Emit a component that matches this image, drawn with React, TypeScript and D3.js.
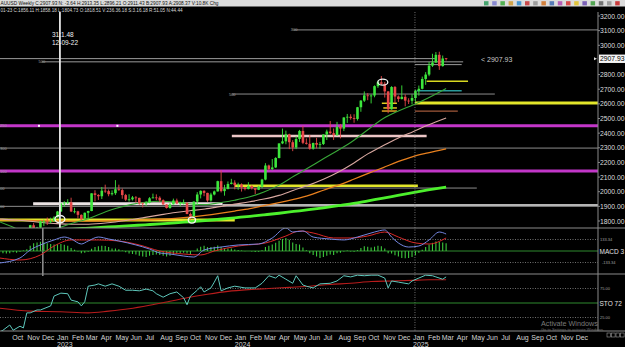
import React from "react";
import * as d3 from "d3";

const W = 625;
const H = 347;
const FONT = "Liberation Sans, Arial, sans-serif";

// ---- weekly XAUUSD bars, first bar week of 2022-09-05 ----
const FIRST_WEEK = "2022-09-05";
const opens = [
  1712, 1717, 1675, 1644, 1660, 1695, 1644, 1657, 1645, 1681,
  1771, 1751, 1755, 1797, 1797, 1793, 1798, 1824, 1865, 1920,
  1926, 1928, 1865, 1866, 1842, 1818.51, 1856, 1868, 1989, 1978,
  1969, 2007, 2004, 1983, 1990, 2017, 2011, 1977, 1946, 1948,
  1961, 1958, 1921, 1919, 1925, 1955, 1961, 1959, 1942, 1913,
  1889, 1914, 1940, 1919, 1924, 1925, 1848, 1832, 1933, 1981,
  2006, 1992, 1940, 1981, 2002, 2072, 2004, 2019, 2053, 2062,
  2045, 2049, 2029, 2018, 2039, 2024, 2013, 2035, 2083, 2179,
  2155, 2166, 2230, 2330, 2344, 2392, 2338, 2302, 2360, 2415,
  2334, 2327, 2294, 2333, 2321, 2326, 2391, 2411, 2400, 2386,
  2443, 2431, 2507, 2512, 2503, 2497, 2577, 2622, 2658, 2653,
  2657, 2721, 2747, 2737, 2685, 2563, 2715, 2650, 2633, 2648,
  2622, 2621, 2640, 2690, 2703, 2770, 2800, 2861, 2882, 2935,
  2858, 2911.43,
];
const highs = [
  1729, 1735, 1688, 1675, 1730, 1700, 1670, 1675, 1683, 1774,
  1786, 1760, 1804, 1810, 1824, 1823, 1833, 1869, 1922, 1935,
  1949, 1959, 1890, 1870, 1845, 1858.18, 1870, 1989, 2010, 1983,
  2032, 2048, 2015, 2009, 2079, 2048, 2022, 1985, 1983, 1971,
  1970, 1959, 1928, 1935, 1963, 1987, 1982, 1969, 1948, 1916,
  1922, 1953, 1953, 1932, 1947, 1926, 1858, 1933, 1997, 2009,
  2010, 1993, 1993, 2008, 2075, 2146, 2047, 2070, 2088, 2078,
  2062, 2057, 2032, 2065, 2044, 2025, 2041, 2088, 2195, 2185,
  2223, 2236, 2330, 2431, 2417, 2396, 2352, 2378, 2422, 2450,
  2364, 2388, 2335, 2368, 2340, 2392, 2424, 2483, 2432, 2477,
  2462, 2509, 2531, 2529, 2529, 2579, 2626, 2685, 2673, 2665,
  2726, 2758, 2790, 2750, 2686, 2721, 2722, 2657, 2726, 2665,
  2638, 2665, 2697, 2725, 2786, 2817, 2886, 2942, 2954, 2956,
  2930, 2913.35,
];
const lows = [
  1691, 1654, 1639, 1615, 1660, 1640, 1617, 1638, 1617, 1664,
  1747, 1727, 1745, 1765, 1773, 1785, 1797, 1824, 1862, 1896,
  1916, 1861, 1852, 1818, 1805, 1804.73, 1810, 1867, 1934, 1944,
  1950, 1992, 1969, 1974, 1978, 2006, 1952, 1937, 1932, 1940,
  1925, 1911, 1893, 1902, 1921, 1955, 1942, 1929, 1911, 1885,
  1884, 1913, 1915, 1901, 1913, 1846, 1810, 1830, 1908, 1954,
  1969, 1931, 1932, 1975, 2001, 1995, 1973, 2016, 2050, 2016,
  2013, 2001, 2009, 2016, 2015, 1984, 2011, 2024, 2078, 2146,
  2146, 2162, 2228, 2325, 2324, 2291, 2277, 2291, 2340, 2325,
  2322, 2287, 2287, 2296, 2293, 2319, 2353, 2393, 2353, 2381,
  2364, 2414, 2470, 2492, 2471, 2486, 2546, 2613, 2625, 2603,
  2645, 2709, 2728, 2643, 2536, 2560, 2605, 2613, 2630, 2583,
  2599, 2596, 2615, 2656, 2699, 2730, 2789, 2852, 2881, 2832,
  2854, 2896.21,
];
const closes = [
  1717, 1675, 1644, 1660, 1695, 1644, 1657, 1645, 1681, 1771,
  1751, 1755, 1797, 1797, 1793, 1798, 1824, 1865, 1920, 1926,
  1928, 1865, 1866, 1842, 1811, 1856.11, 1868, 1989, 1978, 1969,
  2007, 2004, 1983, 1990, 2017, 2011, 1977, 1946, 1948, 1961,
  1958, 1921, 1919, 1925, 1955, 1961, 1959, 1942, 1913, 1889,
  1914, 1940, 1919, 1924, 1925, 1848, 1832, 1933, 1981, 2006,
  1992, 1940, 1981, 2002, 2072, 2004, 2019, 2053, 2062, 2045,
  2049, 2029, 2018, 2039, 2024, 2013, 2035, 2083, 2179, 2155,
  2166, 2230, 2330, 2344, 2392, 2338, 2302, 2360, 2415, 2334,
  2327, 2294, 2333, 2321, 2326, 2391, 2411, 2400, 2386, 2443,
  2431, 2507, 2512, 2503, 2497, 2577, 2622, 2658, 2653, 2657,
  2721, 2747, 2737, 2685, 2563, 2715, 2650, 2633, 2648, 2622,
  2621, 2640, 2690, 2703, 2770, 2800, 2861, 2882, 2935, 2858,
  2910, 2907.93,
];

// ---- moving averages (monthly samples) ----
const maDates = [
  "2022-09-01", "2022-10-01", "2022-11-01", "2022-12-01",
  "2023-01-01", "2023-02-01", "2023-03-01", "2023-04-01", "2023-05-01", "2023-06-01",
  "2023-07-01", "2023-08-01", "2023-09-01", "2023-10-01", "2023-11-01", "2023-12-01",
  "2024-01-01", "2024-02-01", "2024-03-01", "2024-04-01", "2024-05-01", "2024-06-01",
  "2024-07-01", "2024-08-01", "2024-09-01", "2024-10-01", "2024-11-01", "2024-12-01",
  "2025-01-01", "2025-02-01", "2025-03-10",
];
const sma26 = [
  1800, 1760, 1720, 1725, 1750, 1785, 1810, 1850, 1885, 1912, 1928, 1935, 1930, 1918, 1912, 1925,
  1942, 1965, 1998, 2045, 2105, 2165, 2225, 2285, 2350, 2425, 2500, 2550, 2592, 2640, 2705,
];
const sma52 = [
  1815, 1808, 1800, 1790, 1782, 1778, 1778, 1783, 1793, 1808, 1825, 1842, 1858, 1870, 1882, 1898,
  1915, 1932, 1950, 1975, 2010, 2045, 2085, 2135, 2195, 2260, 2315, 2365, 2410, 2455, 2503,
];
const sma100 = [
  1808, 1806, 1804, 1802, 1800, 1799, 1799, 1800, 1802, 1805, 1808, 1812, 1818, 1826, 1838, 1852,
  1868, 1885, 1905, 1925, 1948, 1975, 2010, 2045, 2085, 2125, 2165, 2205, 2240, 2265, 2292,
];
const sma200 = [
  1725, 1728, 1731, 1735, 1740, 1745, 1750, 1756, 1762, 1768, 1774, 1780, 1787, 1795, 1803, 1812,
  1822, 1832, 1842, 1853, 1865, 1877, 1890, 1905, 1920, 1938, 1956, 1975, 1994, 2012, 2032,
];

// ---- MACD panel (week index, value) ----
const macdHist = [
  -20, -25, -30, -25, -15, -20, -10, 5, 20, 60,
  90, 100, 108, 100, 90, 80, 75, 78, 80, 72,
  60, 35, 15, -5, -25, -20, -10, 25, 45, 55,
  60, 58, 45, 30, 30, 20, 5, -15, -30, -35,
  -40, -55, -65, -70, -55, -45, -40, -45, -55, -65,
  -55, -40, -30, -25, -20, -30, -35, 0, 30, 50,
  60, 45, 45, 50, 65, 50, 35, 30, 28, 18,
  12, 5, -2, 0, -5, -12, -8, 10, 45, 60,
  75, 95, 120, 140, 150, 130, 100, 80, 75, 40,
  10, -25, -45, -65, -80, -70, -55, -40, -45, -25,
  -20, -5, 5, -5, -10, 10, 35, 55, 50, 40,
  50, 60, 55, 30, -25, -30, -50, -65, -80, -85,
  -80, -70, -50, -20, 15, 45, 75, 95, 110, 105,
  100, 90,
];
const macdMain: [number, number][] = [
  [0, -139], [6, -81], [9, 12], [12, 70], [16, 128], [19, 162], [21, 140], [24, 81], [26, 116],
  [29, 162], [32, 139], [35, 116], [40, 70], [44, 23], [47, -23], [50, -35], [54, -58], [57, -70],
  [60, 12], [65, 46], [70, 70], [76, 81], [80, 151], [84, 267], [86, 220], [89, 232], [92, 162],
  [97, 139], [101, 128], [105, 162], [110, 220], [113, 244], [115, 162], [117, 93], [120, 46],
  [123, 58], [126, 128], [129, 220], [131, 197],
];
const macdSignal: [number, number][] = [
  [0, -81], [6, -104], [12, -46], [16, 58], [21, 128], [29, 128], [35, 116], [41, 70], [47, 0],
  [54, -35], [59, -46], [63, 0], [70, 58], [78, 93], [84, 174], [88, 232], [92, 209], [98, 151],
  [103, 151], [108, 174], [113, 220], [117, 162], [122, 93], [126, 81], [131, 151],
];

// ---- Stochastic panel (week index, value) ----
const stoMain: [number, number][] = [
  [0, 0], [1, 3], [3, 12], [4, 3], [6, 10], [7, 7], [8, 33], [9, 33], [11, 38], [12, 38],
  [15, 45], [16, 62], [18, 67], [20, 66], [21, 55], [23, 52], [24, 45], [25, 52], [26, 79],
  [28, 81], [29, 83], [31, 79], [33, 83], [35, 79], [37, 72], [39, 72], [41, 71], [43, 74],
  [45, 71], [46, 66], [48, 60], [50, 66], [52, 69], [54, 59], [55, 47], [56, 62], [58, 72],
  [59, 78], [60, 69], [62, 76], [63, 86], [64, 97], [65, 71], [67, 76], [69, 79], [72, 76],
  [75, 76], [77, 84], [79, 97], [81, 93], [82, 98], [84, 91], [86, 84], [87, 97], [89, 81],
  [90, 79], [92, 76], [94, 83], [97, 84], [99, 88], [101, 97], [103, 95], [105, 98], [107, 97],
  [109, 98], [111, 98], [113, 93], [114, 76], [115, 88], [117, 86], [120, 83], [121, 88],
  [123, 93], [125, 98], [127, 97], [128, 95], [130, 91], [131, 95],
];
const stoSignal: [number, number][] = [
  [0, 41], [9, 36], [18, 35], [26, 33], [32, 36], [38, 40], [44, 46], [50, 53], [55, 59],
  [61, 65], [67, 70], [73, 73], [79, 75], [85, 77], [91, 79], [97, 82], [103, 84], [109, 87],
  [115, 88], [121, 89], [126, 90], [131, 90],
];

// ---- axis labels ----
const priceTicks = [3200, 3100, 3000, 2800, 2700, 2600, 2500, 2400, 2300, 2200, 2100, 2000, 1900, 1800];
const currentPrice = 2907.93;
const monthNames = ["Jan", "Feb", "Mar", "Apr", "May", "Jun", "Jul", "Aug", "Sep", "Oct", "Nov", "Dec"];
const yearLabels = ["2023", "2024", "2025"];
const titleText =
  "AUUSD Weekly C:2907.93 N: -3.64 H:2913.35 L:2896.21 O:2911.43 B:2907.93 A:2908.37 V:10.8K Chg";
const infoText = "01-23 C:1856.11 H:1858.18 L:1804.73 O:1818.51 V:236.36.18 S:3.16.18 R:51.05 N:44.44";

// ---- drawn level lines: price, start date, end date (null = chart edge) ----
type Level = { p: number; from: string | null; to: string | null; c: string; w: number };
const levels: Level[] = [
  { p: 3105, from: "2024-05-01", to: null, c: "#8c8c8c", w: 1 },
  { p: 2909, from: null, to: "2025-02-15", c: "#9a9a9a", w: 1 },
  { p: 2887, from: "2022-12-01", to: "2025-04-14", c: "#9a9a9a", w: 1 },
  { p: 2868, from: "2025-01-05", to: "2025-04-11", c: "#9a9a9a", w: 1 },
  { p: 2755, from: "2025-01-29", to: "2025-04-24", c: "#d8d820", w: 1.5 },
  { p: 2690, from: "2025-01-09", to: "2025-04-11", c: "#2a9a9a", w: 1.5 },
  { p: 2667, from: "2023-12-26", to: "2025-06-18", c: "#8c8c8c", w: 1 },
  { p: 2606, from: "2025-01-05", to: null, c: "#e2e62a", w: 3 },
  { p: 2550, from: "2025-01-05", to: "2025-04-03", c: "#a0583a", w: 1.2 },
  { p: 2450, from: null, to: null, c: "#c236c8", w: 3 },
  { p: 2380, from: "2023-12-26", to: "2025-01-29", c: "#ecc6c6", w: 2.5 },
  { p: 2298, from: null, to: null, c: "#8c8c8c", w: 1 },
  { p: 2141, from: null, to: null, c: "#c236c8", w: 3 },
  { p: 2040, from: "2024-01-01", to: "2025-01-11", c: "#e2e62a", w: 2.5 },
  { p: 2025, from: null, to: "2025-05-12", c: "#8c8c8c", w: 1 },
  { p: 1900, from: null, to: null, c: "#8c8c8c", w: 1 },
  { p: 1910, from: "2023-12-07", to: null, c: "#b4b4b4", w: 2 },
  { p: 1918, from: "2022-11-13", to: "2023-12-07", c: "#ece4e4", w: 3 },
  { p: 1806, from: null, to: "2024-01-01", c: "#e2e62a", w: 3 },
  { p: 2604, from: "2024-10-29", to: "2024-11-29", c: "#e2d020", w: 1.5 },
  { p: 2572, from: "2024-11-01", to: "2024-11-29", c: "#e2c020", w: 1.5 },
  { p: 2551, from: "2024-10-29", to: "2024-11-29", c: "#e0a020", w: 1.5 },
];
const levelTags: { t: string; p: number; at: string | null }[] = [
  { t: "500", p: 2887, at: "2022-11-24" },
  { t: "500", p: 2667, at: "2023-12-20" },
  { t: "300", p: 3105, at: "2024-04-25" },
  { t: "250", p: 2450, at: null },
  { t: "300", p: 2298, at: null },
  { t: "100", p: 2141, at: null },
  { t: "00", p: 2025, at: null },
  { t: "00", p: 1900, at: null },
];
const markers: { d: string; p: number; rx: number; ry: number }[] = [
  { d: "2023-01-07", p: 1813, rx: 5, ry: 3.6 },
  { d: "2023-10-05", p: 1806, rx: 3.6, ry: 3 },
  { d: "2024-10-31", p: 2748, rx: 5, ry: 3 },
];
const toolColors = [
  "#2a9a5a", "#7a7ad0", "#3aa83a", "#d09a30", "#2a8ad0", "#c83030", "#909090", "#d07020",
  "#406ab0", "#b048b0", "#d83030", "#e0c020", "#6a4ab0", "#3a9a3a", "#606060", "#909090", "#c82020",
];

const parse = d3.timeParse("%Y-%m-%d");

function T(props: {
  x: number; y: number; s: number; fill: string; children: React.ReactNode;
  anchor?: string; len?: number;
}) {
  const { x, y, s, fill, children, anchor, len } = props;
  return (
    <text
      x={x}
      y={y}
      fontSize={s}
      fill={fill}
      fontFamily={FONT}
      textAnchor={anchor || "start"}
      textLength={len}
      lengthAdjust={len ? "spacingAndGlyphs" : undefined}
    >
      {children}
    </text>
  );
}

export default function App() {
  const x = d3
    .scaleTime()
    .domain([parse("2023-01-01")!, parse("2025-01-01")!])
    .range([57, 413]);
  const y = d3.scaleLinear().domain([1800, 3200]).range([221, 16]);
  const yM = d3.scaleLinear().domain([-133.34, 133.34]).range([262.5, 239.5]);
  const yS = d3.scaleLinear().domain([0, 100]).range([332, 274]);

  const first = parse(FIRST_WEEK)!;
  const wx = (i: number) => x(d3.timeDay.offset(first, 7 * i));
  const AX = 598; // price axis x
  const xEdge = (d: string | null, fallback: number) => (d ? x(parse(d)!) : fallback);

  const maLine = d3
    .line<number>()
    .x((_, i) => x(parse(maDates[i])!))
    .y((v) => y(v))
    .curve(d3.curveMonotoneX);
  const pairLine = (sc: d3.ScaleLinear<number, number>, curve: d3.CurveFactory) =>
    d3
      .line<[number, number]>()
      .x((d) => wx(d[0]))
      .y((d) => sc(d[1]))
      .curve(curve);

  const months = d3.timeMonth.range(parse("2022-10-01")!, parse("2026-01-01")!);
  const years = yearLabels.map((t) => ({ t, d: parse(`${t}-01-01`)! }));
  const bodyW = 2.6;

  return (
    <svg
      width={W}
      height={H}
      style={{ position: "absolute", left: 0, top: 0, display: "block" }}
      xmlns="http://www.w3.org/2000/svg"
    >
      <defs>
        <clipPath id="mainClip">
          <rect x={0} y={12} width={AX} height={216} />
        </clipPath>
        <clipPath id="macdClip">
          <rect x={0} y={228} width={AX} height={46} />
        </clipPath>
        <clipPath id="stoClip">
          <rect x={0} y={274} width={AX} height={57} />
        </clipPath>
      </defs>
      <rect x={0} y={0} width={W} height={H} fill="#000" />

      {/* title bar */}
      <rect x={0} y={0} width={W} height={6.5} fill="#dcdcdc" />
      <T x={0.5} y={5.3} s={5.2} fill="#111" len={218}>{titleText}</T>
      {toolColors.map((c, k) => (
        <rect key={k} x={484 + k * 8.2} y={1.2} width={4.5} height={4.2} fill={c} opacity={0.85} />
      ))}
      <T x={0.5} y={11.6} s={5} fill="#d8d8d8" len={182}>{infoText}</T>

      {/* main panel */}
      <g clipPath="url(#mainClip)">
        {levels.map((l, k) => (
          <line
            key={k}
            x1={xEdge(l.from, 0)}
            x2={xEdge(l.to, AX)}
            y1={y(l.p)}
            y2={y(l.p)}
            stroke={l.c}
            strokeWidth={l.w}
          />
        ))}
        <rect x={x(parse("2022-11-25")!) - 1} y={y(2450) - 1} width={2} height={2} fill="#fff" />
        <rect x={x(parse("2023-05-05")!) - 1} y={y(2450) - 1} width={2} height={2} fill="#fff" />

        {/* moving averages */}
        <path d={maLine(sma200)!} fill="none" stroke="#4cf02c" strokeWidth={2.8} />
        <path d={maLine(sma100)!} fill="none" stroke="#e8801e" strokeWidth={1.3} />
        <path d={maLine(sma52)!} fill="none" stroke="#d8a8a0" strokeWidth={1.1} />
        <path d={maLine(sma26)!} fill="none" stroke="#38a838" strokeWidth={1.1} />

        {/* candles */}
        {closes.map((c, i) => {
          const o = opens[i];
          const up = c >= o;
          const col = up ? "#3ce63c" : "#e84848";
          const cx = wx(i);
          const top = y(Math.max(o, c));
          const bot = y(Math.min(o, c));
          return (
            <g key={i}>
              <line x1={cx} x2={cx} y1={y(highs[i])} y2={y(lows[i])} stroke={col} strokeWidth={0.9} />
              <rect x={cx - bodyW / 2} y={top} width={bodyW} height={Math.max(0.8, bot - top)} fill={col} />
            </g>
          );
        })}

        {markers.map((m, k) => (
          <ellipse
            key={k}
            cx={x(parse(m.d)!)}
            cy={y(m.p)}
            rx={m.rx}
            ry={m.ry}
            fill="none"
            stroke="#f4f4f4"
            strokeWidth={1.3}
          />
        ))}
      </g>

      {levelTags.map((t, k) => (
        <T key={k} x={t.at ? x(parse(t.at)!) : 0} y={y(t.p) + 1.5} s={4} fill="#a0a0a0">
          {t.t}
        </T>
      ))}

      {/* cursor lines */}
      <line
        x1={x(parse("2023-01-07")!)}
        x2={x(parse("2023-01-07")!)}
        y1={12}
        y2={228}
        stroke="#e6e6e6"
        strokeWidth={1.8}
      />
      <line
        x1={x(parse("2022-12-03")!)}
        x2={x(parse("2022-12-03")!)}
        y1={228}
        y2={276}
        stroke="#d8d8d8"
        strokeWidth={1}
      />
      <line
        x1={x(parse("2025-01-05")!)}
        x2={x(parse("2025-01-05")!)}
        y1={12}
        y2={331}
        stroke="#8a8a8a"
        strokeWidth={0.8}
        strokeDasharray="1,1.5"
      />
      <T x={52} y={37} s={6.5} fill="#f0f0f0">31:1.48</T>
      <T x={52} y={44.5} s={6.5} fill="#f0f0f0">12-09-22</T>
      <T x={481} y={62} s={7} fill="#c8c8c8">{`< ${currentPrice.toFixed(2)}`}</T>

      {/* MACD panel */}
      <line x1={0} x2={AX} y1={yM(133.34)} y2={yM(133.34)} stroke="#8a8a8a" strokeWidth={0.8} strokeDasharray="1,1.5" />
      <line x1={0} x2={AX} y1={yM(-133.34)} y2={yM(-133.34)} stroke="#8a8a8a" strokeWidth={0.8} strokeDasharray="1,1.5" />
      <line x1={0} x2={AX} y1={yM(0)} y2={yM(0)} stroke="#2e8a2e" strokeWidth={1} />
      <g clipPath="url(#macdClip)">
        {macdHist.map((v, i) => (
          <line key={i} x1={wx(i)} x2={wx(i)} y1={yM(0)} y2={yM(v)} stroke="#3cc83c" strokeWidth={1.1} />
        ))}
        <path d={pairLine(yM, d3.curveMonotoneX)(macdSignal)!} fill="none" stroke="#d82828" strokeWidth={1} />
        <path d={pairLine(yM, d3.curveMonotoneX)(macdMain)!} fill="none" stroke="#7486e0" strokeWidth={1} />
      </g>

      {/* Stochastic panel */}
      <line x1={0} x2={AX} y1={yS(75)} y2={yS(75)} stroke="#8a8a8a" strokeWidth={0.8} strokeDasharray="1,1.5" />
      <line x1={0} x2={AX} y1={yS(25)} y2={yS(25)} stroke="#8a8a8a" strokeWidth={0.8} strokeDasharray="1,1.5" />
      <line x1={0} x2={AX} y1={yS(50)} y2={yS(50)} stroke="#2e8a2e" strokeWidth={1} />
      <g clipPath="url(#stoClip)">
        <path d={pairLine(yS, d3.curveMonotoneX)(stoSignal)!} fill="none" stroke="#b81c1c" strokeWidth={1.1} />
        <path d={pairLine(yS, d3.curveLinear)(stoMain)!} fill="none" stroke="#5ec8bc" strokeWidth={1} />
      </g>

      {/* separators */}
      {[228, 274, 331].map((yy) => (
        <line key={yy} x1={0} x2={W} y1={yy} y2={yy} stroke="#8a8a8a" strokeWidth={1} />
      ))}

      {/* price axis */}
      <line x1={AX} x2={AX} y1={12} y2={331} stroke="#8a8a8a" strokeWidth={1} />
      {priceTicks.map((p) => (
        <g key={p}>
          <line x1={AX} x2={AX + 2} y1={y(p)} y2={y(p)} stroke="#8a8a8a" />
          <T x={600} y={y(p) + 2.5} s={6.8} fill="#dcdcdc">{p.toFixed(2)}</T>
        </g>
      ))}
      <rect x={599} y={y(currentPrice) - 4.2} width={26} height={8.4} fill="#f4f4f4" />
      <T x={600} y={y(currentPrice) + 2.5} s={6.8} fill="#000">{currentPrice.toFixed(2)}</T>
      <path
        d={`M${AX - 1},${y(currentPrice)} l-3,-1.6 v3.2 z`}
        fill="#e0e0e0"
      />

      {/* indicator labels */}
      <T x={600} y={yM(133.34) + 1.5} s={4} fill="#a0a0a0">133.34</T>
      <T x={599.5} y={yM(0) + 2.5} s={6.5} fill="#e0e0e0">MACD 3</T>
      <T x={602} y={yM(-133.34) + 1.5} s={4} fill="#a0a0a0">-133.34</T>
      <T x={600} y={yS(75) + 1.5} s={4} fill="#a0a0a0">75.00</T>
      <T x={599.5} y={yS(50) + 2.5} s={6.5} fill="#e0e0e0">STO 72</T>
      <T x={600} y={yS(25) + 1.5} s={4} fill="#a0a0a0">25.00</T>

      {/* time axis */}
      {months.map((d, k) => (
        <T key={k} x={x(d)} y={339.5} s={7} fill="#d4d4d4">{monthNames[d.getMonth()]}</T>
      ))}
      {years.map((yl) => (
        <T key={yl.t} x={x(yl.d)} y={346.5} s={7} fill="#d4d4d4">{yl.t}</T>
      ))}

      {/* watermark */}
      <T x={541} y={326} s={7.2} fill="#7a7a7a">Activate Windows</T>
      <T x={541} y={331} s={4} fill="#6a6a6a">Go to Settings to activate Windows.</T>
      {[0, 1, 2, 3].map((k) => (
        <rect key={k} x={607 + k * 4.5} y={333} width={3.6} height={4} fill="none" stroke="#9a9a9a" strokeWidth={0.6} />
      ))}
    </svg>
  );
}
